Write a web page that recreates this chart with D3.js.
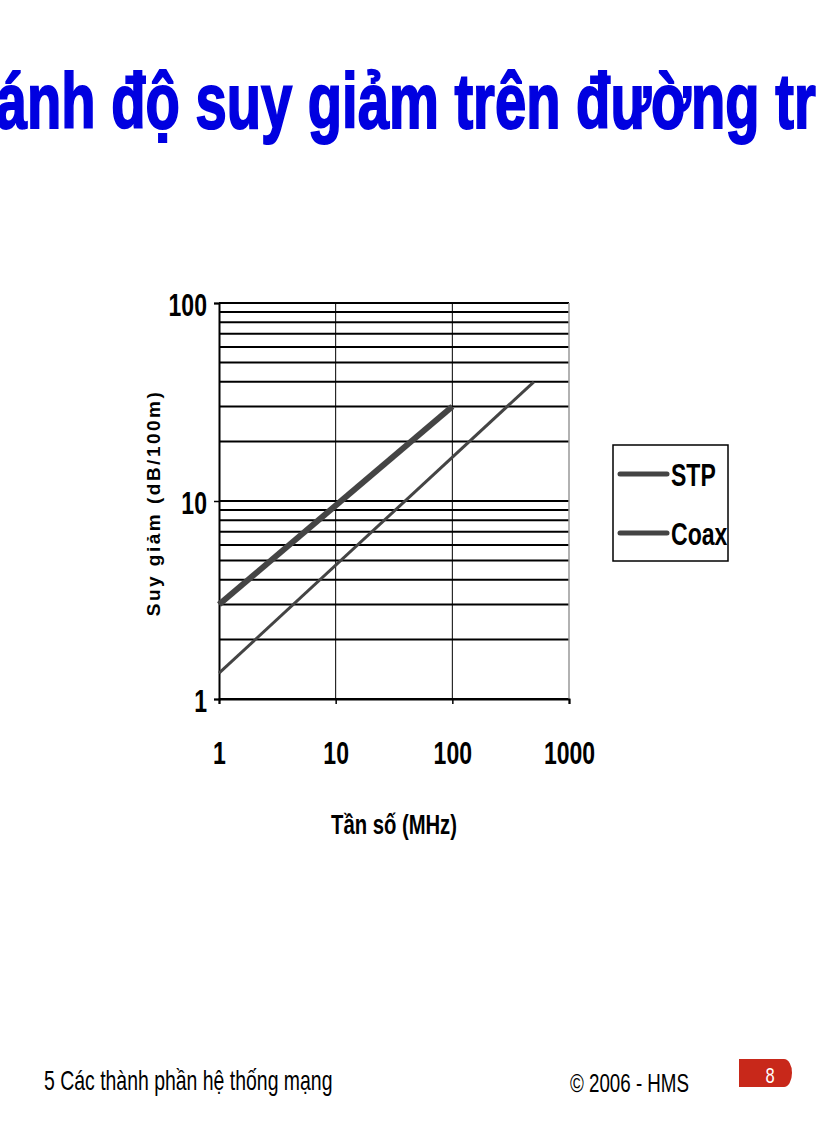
<!DOCTYPE html>
<html><head><meta charset="utf-8">
<script src="https://cdn.jsdelivr.net/npm/d3@7"></script>
<style>body{margin:0;background:#fff}</style>
</head><body>
<div id="chart"></div>
<script>
const freqTicks = [1, 10, 100, 1000];
const attTicks = [1, 10, 100];
const seriesNames = ["STP", "Coax"];
const stpFreq = [1, 100];
const stpAtt = [3, 30];
const coaxFreq = [1, 500];
const coaxAtt = [1.35, 40];

const W = 816, H = 1123;
const svg = d3.select("#chart").append("svg").attr("width", W).attr("height", H);
const narrow = "'Liberation Sans Narrow', 'Liberation Sans', Arial, sans-serif";

// condensed text helper: draws text at (x,y) squeezed horizontally
function ctext(x0, y0, str, size, sx, opts = {}) {
    const t = svg.append("text")
        .attr("transform", `translate(${x0},${y0}) scale(${sx},1)`)
        .attr("font-family", narrow).attr("font-size", size)
        .attr("font-weight", opts.bold ? "bold" : "normal")
        .attr("text-anchor", opts.anchor || "start")
        .attr("fill", opts.fill || "#000").text(str);
    return t;
}

ctext(412, 128, "So sánh độ suy giảm trên đường truyền", 78, 0.72, { bold: true, anchor: "middle", fill: "#0000e0" })
    .attr("stroke", "#0000e0").attr("stroke-width", 2);

const x = d3.scaleLog().domain([1, 1000]).range([219, 569]);
const y = d3.scaleLog().domain([1, 100]).range([699, 303]);

// horizontal grid
const yGrid = [];
[1, 10].forEach(d => { for (let k = 1; k <= 9; k++) yGrid.push(d * k); });
yGrid.push(100);
svg.append("g").selectAll("line").data(yGrid).enter().append("line")
    .attr("x1", 219).attr("x2", 569)
    .attr("y1", d => y(d)).attr("y2", d => y(d))
    .attr("stroke", "#000").attr("stroke-width", 2);
svg.append("g").selectAll("line").data(freqTicks.slice(1, 3)).enter().append("line")
    .attr("x1", d => x(d)).attr("x2", d => x(d)).attr("y1", 303).attr("y2", 699)
    .attr("stroke", "#000").attr("stroke-width", 1);
svg.append("line").attr("x1", 569).attr("x2", 569).attr("y1", 303).attr("y2", 699)
    .attr("stroke", "#999").attr("stroke-width", 1.5);

const xAxis = svg.append("g").attr("transform", "translate(0,699)")
    .call(d3.axisBottom(x).tickValues(freqTicks).tickFormat(d3.format("d")).tickSize(5));
const yAxis = svg.append("g").attr("transform", "translate(219,0)")
    .call(d3.axisLeft(y).tickValues(attTicks).tickFormat(d3.format("d")).tickSize(5));
[xAxis, yAxis].forEach(a => {
    a.select(".domain").attr("stroke", "#000").attr("stroke-width", 2);
    a.selectAll(".tick line").attr("stroke", "#000").attr("stroke-width", 1.5);
    a.selectAll("text").attr("font-family", narrow).attr("font-weight", "bold")
        .attr("font-size", 32).attr("fill", "#000");
});
xAxis.selectAll("text").attr("y", 0).attr("dy", 0).attr("transform", "translate(0,65) scale(0.72,1)");
yAxis.selectAll("text").attr("x", 0).attr("dy", 0).attr("transform", "translate(-12,12) scale(0.72,1)");

const line = d3.line().x(d => x(d[0])).y(d => y(d[1]));
svg.append("path").datum(d3.zip(coaxFreq, coaxAtt)).attr("d", line)
    .attr("fill", "none").attr("stroke", "#444").attr("stroke-width", 3);
svg.append("path").datum(d3.zip(stpFreq, stpAtt)).attr("d", line)
    .attr("fill", "none").attr("stroke", "#444").attr("stroke-width", 6);

ctext(394, 834, "Tần số (MHz)", 27, 0.75, { bold: true, anchor: "middle" });
svg.append("text").attr("transform", "translate(160,503) rotate(-90)").attr("text-anchor", "middle")
    .attr("font-family", "'Liberation Sans', Arial, sans-serif").attr("font-weight", "bold")
    .attr("font-size", 19).attr("letter-spacing", 2.5).text("Suy giảm (dB/100m)");

// legend
svg.append("rect").attr("x", 613).attr("y", 445).attr("width", 115).attr("height", 116)
    .attr("fill", "#fff").attr("stroke", "#000").attr("stroke-width", 1.5);
seriesNames.forEach((n, i) => {
    const yy = 474 + i * 59;
    svg.append("line").attr("x1", 620).attr("x2", 667).attr("y1", yy).attr("y2", yy)
        .attr("stroke", "#444").attr("stroke-width", 5).attr("stroke-linecap", "round");
    ctext(671, yy + 12, n, 32, 0.72, { bold: true });
});

// footer
ctext(44, 1090, "5  Các thành phần hệ thống mạng", 27, 0.72);
ctext(570, 1092, "© 2006 - HMS", 25, 0.75);
svg.append("path").attr("d", "M739,1059 H784 A8,14 0 0 1 784,1087 H739 Z").attr("fill", "#c8281a");
ctext(770, 1083, "8", 22, 0.75, { anchor: "middle", fill: "#fff" });
</script>
</body></html>
